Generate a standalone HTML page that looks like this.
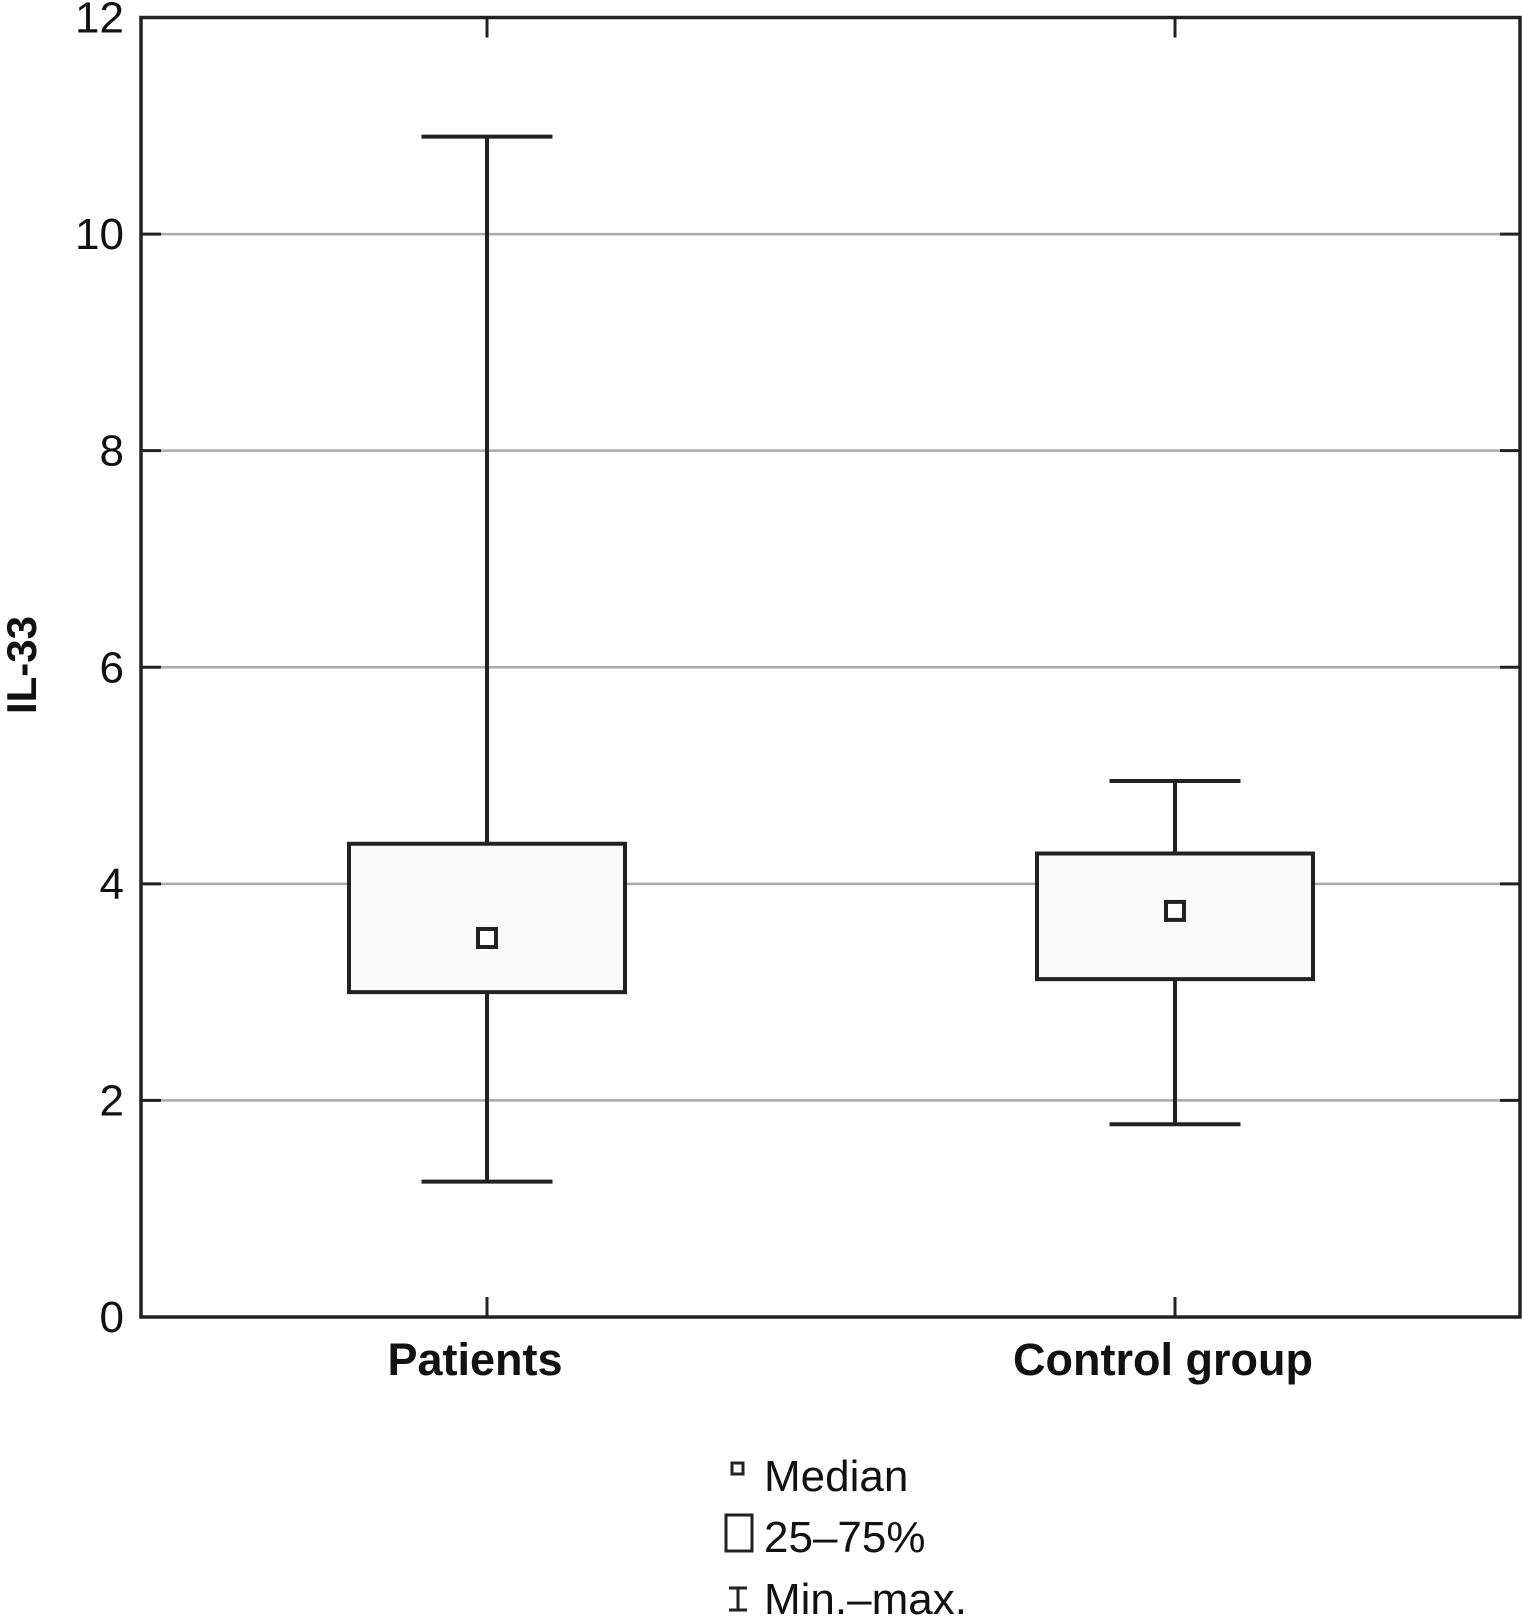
<!DOCTYPE html>
<html><head><meta charset="utf-8"><style>
html,body{margin:0;padding:0;background:#fff}
svg{display:block}
text{font-family:"Liberation Sans",sans-serif;fill:#111}
</style></head><body>
<svg id="chart" width="1522" height="1617" viewBox="0 0 1522 1617" xmlns="http://www.w3.org/2000/svg">
<g id="grid"></g>
<g id="marks"></g>
<g id="axes"></g>
<text transform="translate(36,665) rotate(-90)" text-anchor="middle" font-size="42" font-weight="bold">IL-33</text>
<g>
  <rect x="732" y="1463" width="11" height="11" fill="#fff" stroke="#222" stroke-width="3"/>
  <text x="764" y="1491" font-size="44">Median</text>
  <rect x="726" y="1515" width="26" height="36" fill="#fff" stroke="#222" stroke-width="3"/>
  <text x="764" y="1552" font-size="44">25–75%</text>
  <path d="M729 1588h18M738 1588v22M729 1610h18" stroke="#222" stroke-width="3" fill="none"/>
  <text x="764" y="1614" font-size="44">Min.–max.</text>
</g>
</svg>
<script>
const categories = ["Patients", "Control group"];
const mins = [1.25, 1.78];
const q1s = [3.0, 3.12];
const medians = [3.5, 3.75];
const q3s = [4.37, 4.28];
const maxs = [10.9, 4.95];
const yTicks = [0, 2, 4, 6, 8, 10, 12];

const L = 141, R = 1520, T = 17.5, B = 1317;
const catX = [487, 1175];
const y = v => B - (v - 0) / 12 * (B - T);
const NS = "http://www.w3.org/2000/svg";
function mk(tag, attrs, parent) {
  const e = document.createElementNS(NS, tag);
  for (const k in attrs) e.setAttribute(k, attrs[k]);
  parent.appendChild(e);
  return e;
}
const grid = document.getElementById('grid');
const marks = document.getElementById('marks');
const axes = document.getElementById('axes');

yTicks.forEach(t => {
  if (t > 0 && t < 12) {
    const g = mk('line', {x1: L, x2: R, y1: y(t), y2: y(t), stroke: '#aaa', 'stroke-width': 2.5}, grid);
    
    
  }
  const tk = mk('line', {x1: L, x2: L + 20, y1: y(t), y2: y(t), stroke: '#222', 'stroke-width': 3}, axes);
  
  
  const tk2 = mk('line', {x1: R - 20, x2: R, y1: y(t), y2: y(t), stroke: '#222', 'stroke-width': 3}, axes);
  
  
  const lb = mk('text', {x: 124, y: y(t) + 15, 'text-anchor': 'end', 'font-size': 44}, axes);
  lb.textContent = t;
  
  
});

const frame = mk('rect', {x: L, y: T, width: R - L, height: B - T, fill: 'none', stroke: '#222', 'stroke-width': 3.5}, axes);



const boxW = 276, capW = 131, medS = 18;
categories.forEach((c, i) => {
  const x = catX[i];
  const tb = mk('line', {x1: x, x2: x, y1: B, y2: B - 20, stroke: '#222', 'stroke-width': 3}, axes);
  
  
  const tt = mk('line', {x1: x, x2: x, y1: T, y2: T + 20, stroke: '#222', 'stroke-width': 3}, axes);
  
  
  const cl = mk('text', {x: x - 12, y: 1375, 'text-anchor': 'middle', 'font-size': 45, 'font-weight': 'bold'}, axes);
  cl.textContent = c;
  
  

  const w = mk('path', {d: `M${x} ${y(maxs[i])}V${y(mins[i])}M${x - capW / 2} ${y(maxs[i])}h${capW}M${x - capW / 2} ${y(mins[i])}h${capW}`, stroke: '#222', 'stroke-width': 4, fill: 'none'}, marks);
  
  
  const b = mk('rect', {x: x - boxW / 2, y: y(q3s[i]), width: boxW, height: y(q1s[i]) - y(q3s[i]), fill: '#fafafa', stroke: '#222', 'stroke-width': 4}, marks);
  
  
  const m = mk('rect', {x: x - medS / 2, y: y(medians[i]) - medS / 2, width: medS, height: medS, fill: '#fff', stroke: '#222', 'stroke-width': 4}, marks);
  
  
});
</script>
</body></html>
